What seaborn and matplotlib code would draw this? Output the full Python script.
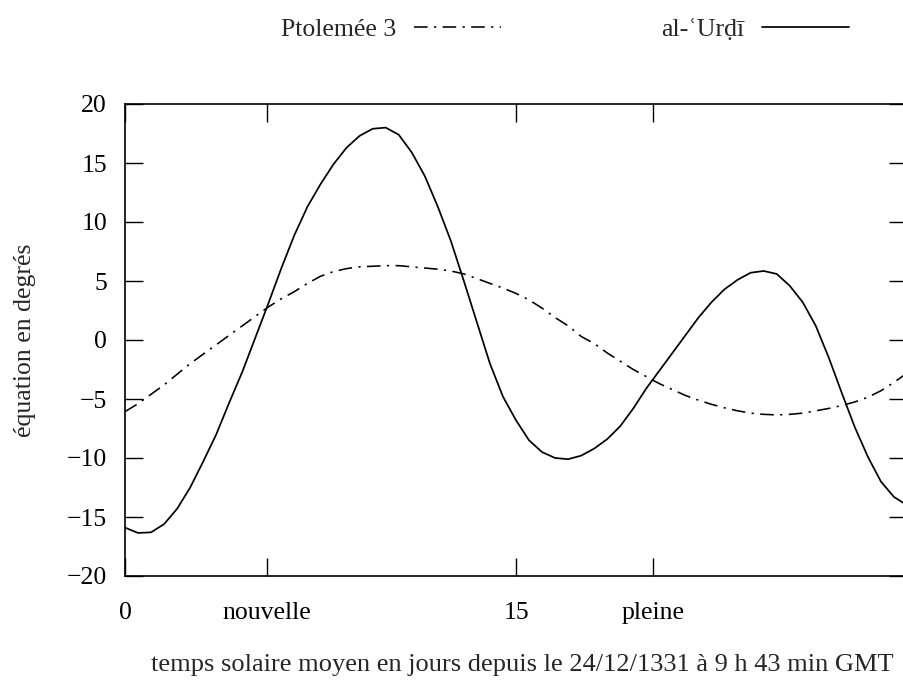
import matplotlib
matplotlib.use('Agg')
import matplotlib.pyplot as plt
import seaborn as sns

# jours depuis le 24/12/1331, pas de 0.5 j
days = [i * 0.5 for i in range(61)]

urdi = [-15.9, -16.35, -16.3, -15.6, -14.3, -12.5, -10.3, -8.0, -5.3, -2.7,
        0.2, 3.1, 6.1, 8.9, 11.3, 13.2, 14.9, 16.3, 17.3, 17.9,
        18.0, 17.4, 15.9, 13.9, 11.3, 8.4, 5.0, 1.5, -2.0, -4.8,
        -6.8, -8.5, -9.5, -10.0, -10.1, -9.8, -9.2, -8.4, -7.3, -5.8,
        -4.1, -2.6, -1.1, 0.4, 1.9, 3.2, 4.3, 5.1, 5.7, 5.85,
        5.6, 4.6, 3.2, 1.2, -1.5, -4.5, -7.4, -9.9, -12.0, -13.3,
        -14.0]

ptolemee = [-6.07, -5.4, -4.6, -3.8, -2.9, -2.0, -1.2, -0.4, 0.4, 1.2,
            2.0, 2.8, 3.5, 4.1, 4.8, 5.4, 5.8, 6.05, 6.2, 6.25,
            6.3, 6.3, 6.2, 6.1, 6.0, 5.85, 5.6, 5.2, 4.8, 4.4,
            3.95, 3.4, 2.7, 1.9, 1.2, 0.3, -0.3, -1.1, -1.8, -2.5,
            -3.1, -3.7, -4.2, -4.7, -5.1, -5.45, -5.75, -6.0, -6.2, -6.3,
            -6.35, -6.3, -6.2, -6.0, -5.8, -5.55, -5.25, -4.85, -4.3, -3.6,
            -2.8]

xtick_pos = [0, 5.45, 15, 20.25]
xtick_labels = ['0', 'nouvelle', '15', 'pleine']
ytick_pos = [-20, -15, -10, -5, 0, 5, 10, 15, 20]

sns.set_theme(style="ticks")
plt.rcParams['font.family'] = ['Liberation Serif', 'DejaVu Serif']
plt.rcParams['axes.unicode_minus'] = True

FS = 18.5
fig = plt.figure(figsize=(9.04, 6.80), dpi=100)
W, H = 904, 680
ax = fig.add_axes([125 / W, (H - 576) / H, (907 - 125) / W, (576 - 104) / H])

sns.lineplot(x=days, y=ptolemee, ax=ax, color='black', linewidth=1.15,
             linestyle=(0, (8.5, 4, 1.4, 4)), label='Ptolemée 3')
sns.lineplot(x=days, y=urdi, ax=ax, color='black', linewidth=1.25,
             label='al-ʿUrḍī')

ax.set_xlim(0, 30)
ax.set_ylim(-20, 20)
ax.set_xticks(xtick_pos)
ax.set_xticklabels(xtick_labels)
ax.set_yticks(ytick_pos)
ax.tick_params(direction='in', length=13, width=1.0, top=True, right=True,
               labelsize=FS, colors='black', pad=19)
ax.tick_params(axis='y', pad=13)
for s in ax.spines.values():
    s.set_linewidth(1.2)
    s.set_color('black')

ax.set_xlabel('temps solaire moyen en jours depuis le 24/12/1331 à 9 h 43 min GMT',
              fontsize=19)
ax.set_ylabel('équation en degrés', fontsize=FS)
ax.xaxis.set_label_coords((522 - 125) / (907 - 125), -(654 - 576) / (576 - 104))
ax.yaxis.set_label_coords(-(125 - 36) / (907 - 125), 0.5)

handles, labels = ax.get_legend_handles_labels()
ax.get_legend().remove()
fig.legend(handles, labels, loc='center', bbox_to_anchor=(565 / W, 1 - 30 / H),
           ncol=2, frameon=False, markerfirst=False, fontsize=FS,
           handlelength=3.4, handletextpad=0.7, columnspacing=6.2)

fig.savefig('out.png', dpi=100)
